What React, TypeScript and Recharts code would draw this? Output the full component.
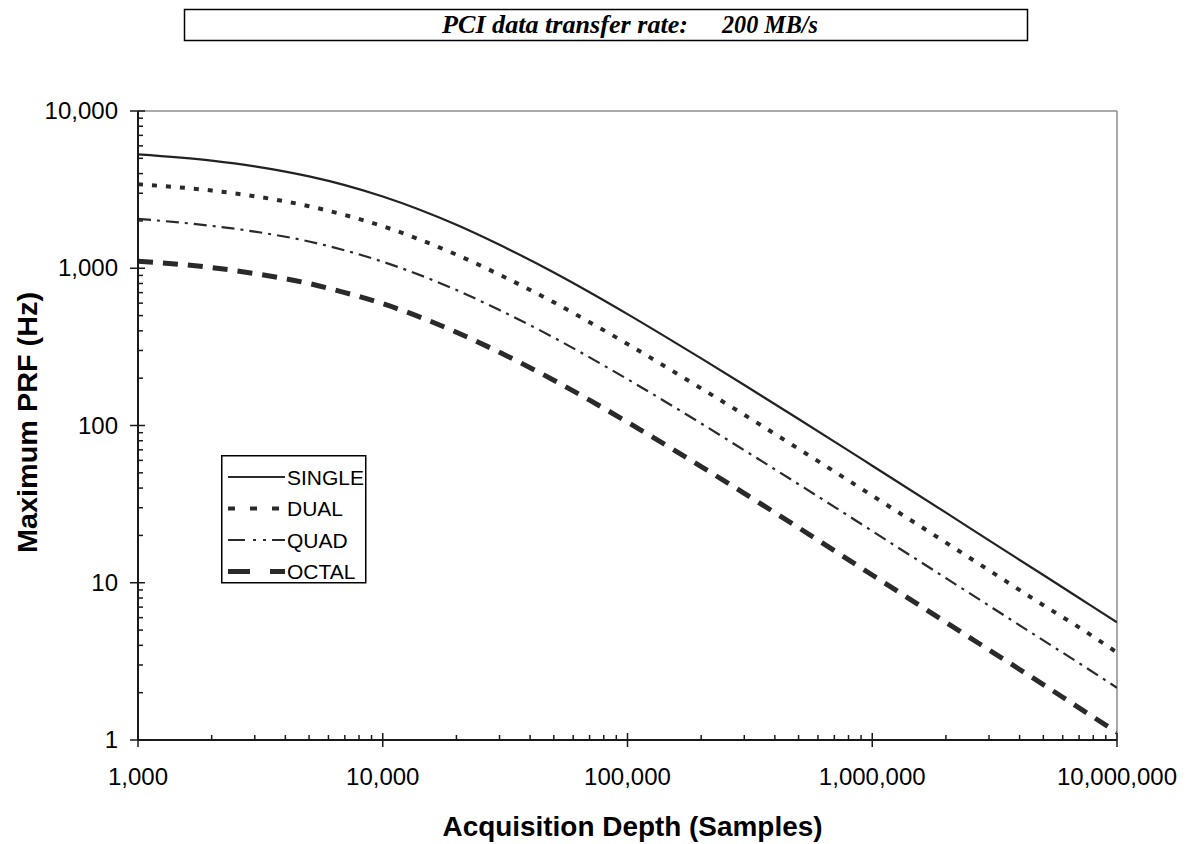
import React from 'react';
import { LineChart, Line, XAxis, YAxis, ReferenceLine, Legend } from 'recharts';

const depths = [1000, 2000, 3000, 5000, 7000, 10000, 20000, 30000, 50000, 70000, 100000, 200000, 300000, 500000, 700000, 1000000, 2000000, 3000000, 5000000, 7000000, 10000000];
const single = [5300, 4840, 4450, 3840, 3380, 2860, 1890, 1410, 940, 704, 511, 267, 181, 110, 79, 55.5, 27.9, 18.6, 11.2, 8.0, 5.6];
const dual = [3420, 3120, 2870, 2480, 2180, 1850, 1220, 910, 607, 454, 330, 172, 117, 71, 51, 35.8, 18.0, 12.0, 7.2, 5.2, 3.6];
const quad = [2060, 1860, 1710, 1480, 1300, 1100, 727, 542, 362, 271, 197, 103, 69.6, 42.3, 30.4, 21.3, 10.7, 7.15, 4.3, 3.08, 2.15];
const octal = [1110, 1010, 925, 800, 700, 595, 392, 292, 194, 145, 105, 54.8, 37, 22.4, 16, 11.2, 5.6, 3.74, 2.25, 1.6, 1.12];

const xMajor = [1000, 10000, 100000, 1000000, 10000000];
const yMajor = [1, 10, 100, 1000, 10000];
const minorMult = [2, 3, 4, 5, 6, 7, 8, 9];
const xTicks: number[] = [];
xMajor.forEach((m, i) => { xTicks.push(m); if (i < xMajor.length - 1) minorMult.forEach(k => xTicks.push(m * k)); });
const yTicks: number[] = [];
yMajor.forEach((m, i) => { yTicks.push(m); if (i < yMajor.length - 1) minorMult.forEach(k => yTicks.push(m * k)); });

const data = depths.map((d, i) => ({ x: d, SINGLE: single[i], DUAL: dual[i], QUAD: quad[i], OCTAL: octal[i] }));

const fmt = (v: number) => v.toLocaleString('en-US');
const FONT = '"Liberation Sans", Arial, sans-serif';
const SERIF = '"Liberation Serif", "Times New Roman", serif';
const AX = '#1a1a1a';
const LINE = '#2a2a2a';

const XTick = (props: any) => {
  const { x, y, payload } = props;
  const v = payload.value;
  const major = xMajor.includes(v);
  return (
    <g>
      {major ? (
        <line x1={x} x2={x} y1={y - 7} y2={y + 7} stroke={AX} strokeWidth={1.5} />
      ) : (
        <line x1={x} x2={x} y1={y - 5} y2={y} stroke={AX} strokeWidth={1.5} />
      )}
      {major && (
        <text x={x} y={y + 45} textAnchor="middle" fontSize={24} fontFamily={FONT} fill="#000">{fmt(v)}</text>
      )}
    </g>
  );
};

const YTick = (props: any) => {
  const { x, y, payload } = props;
  const v = payload.value;
  const major = yMajor.includes(v);
  return (
    <g>
      {major ? (
        <line x1={x - 8} x2={x + 7} y1={y} y2={y} stroke={AX} strokeWidth={1.5} />
      ) : (
        <line x1={x} x2={x + 5} y1={y} y2={y} stroke={AX} strokeWidth={1.5} />
      )}
      {major && (
        <text x={x - 20} y={y + 8} textAnchor="end" fontSize={24} fontFamily={FONT} fill="#000">{fmt(v)}</text>
      )}
    </g>
  );
};

const legendStyles: Record<string, { dash?: string; w: number }> = {
  SINGLE: { w: 2 },
  DUAL: { dash: '7 15', w: 4 },
  QUAD: { dash: '17 8 3 7 3 6 14', w: 2.2 },
  OCTAL: { dash: '22 20 15', w: 5 },
};
const seriesNames = ['SINGLE', 'DUAL', 'QUAD', 'OCTAL'];

const LegendBox = () => (
  <svg width={146} height={129} style={{ display: 'block' }}>
    <rect x={0.75} y={0.75} width={144} height={127} fill="#fff" stroke="#000" strokeWidth={1.5} />
    {seriesNames.map((n, i) => {
      const cy = 22 + i * 31.5;
      const s = legendStyles[n];
      return (
        <g key={n}>
          <line x1={7} x2={64} y1={cy} y2={cy} stroke={LINE} strokeWidth={s.w} strokeDasharray={s.dash} />
          <text x={66} y={cy + 7.5} fontSize={21} fontFamily={FONT} fill="#000">{n}</text>
        </g>
      );
    })}
  </svg>
);

export default function App() {
  return (
    <div style={{ position: 'absolute', left: 0, top: 0, width: 1186, height: 844, background: '#fff' }}>
      <svg width={1186} height={50} style={{ position: 'absolute', left: 0, top: 0 }}>
        <rect x={184.5} y={9.5} width={843} height={31} fill="#fff" stroke="#000" strokeWidth={1.5} />
        <text x={442} y={33} fontSize={25} fontWeight="bold" fontStyle="italic" fontFamily={SERIF} textLength={246} lengthAdjust="spacingAndGlyphs">PCI data transfer rate:</text>
        <text x={722} y={33} fontSize={25} fontWeight="bold" fontStyle="italic" fontFamily={SERIF} textLength={96} lengthAdjust="spacingAndGlyphs">200 MB/s</text>
      </svg>
      <div style={{ position: 'absolute', left: 0, top: 0 }}>
        <LineChart width={1186} height={844} data={data} margin={{ top: 111, right: 69, bottom: 0, left: 0 }}>
          <XAxis
            dataKey="x"
            type="number"
            scale="log"
            domain={[1000, 10000000]}
            allowDataOverflow
            ticks={xTicks}
            interval={0}
            tickSize={0}
            tickMargin={0}
            tickLine={false}
            tick={<XTick />}
            height={104}
            axisLine={{ stroke: AX, strokeWidth: 2 }}
            label={(p: any) => {
              const vb = p.viewBox;
              return (
                <text x={vb.x + vb.width / 2 + 5} y={vb.y + 96} textAnchor="middle" fontSize={27} fontWeight="bold" fontFamily={FONT} fill="#000" textLength={380} lengthAdjust="spacingAndGlyphs">Acquisition Depth (Samples)</text>
              );
            }}
          />
          <YAxis
            type="number"
            scale="log"
            domain={[1, 10000]}
            allowDataOverflow
            ticks={yTicks}
            interval={0}
            tickSize={0}
            tickMargin={0}
            tickLine={false}
            tick={<YTick />}
            width={138}
            axisLine={{ stroke: AX, strokeWidth: 2 }}
            label={(p: any) => {
              const vb = p.viewBox;
              const cx = 28;
              const cy = vb.y + vb.height / 2 - 3;
              return (
                <text x={cx} y={cy} transform={`rotate(-90, ${cx}, ${cy})`} textAnchor="middle" dominantBaseline="central" fontSize={27} fontWeight="bold" fontFamily={FONT} fill="#000" textLength={261} lengthAdjust="spacingAndGlyphs">Maximum PRF (Hz)</text>
              );
            }}
          />
          <ReferenceLine y={10000} stroke="#8c8c8c" strokeWidth={1.5} />
          <ReferenceLine x={10000000} stroke="#8c8c8c" strokeWidth={1.5} />
          <Legend
            layout="vertical"
            align="center"
            verticalAlign="middle"
            content={() => <LegendBox />}
            wrapperStyle={{ position: 'absolute', left: 221, top: 455, width: 146, height: 129 }}
          />
          <Line type="monotone" dataKey="SINGLE" stroke="#222" strokeWidth={2.2} dot={false} isAnimationActive={false} />
          <Line type="monotone" dataKey="DUAL" stroke={LINE} strokeWidth={4} strokeDasharray="5 9" dot={false} isAnimationActive={false} />
          <Line type="monotone" dataKey="QUAD" stroke={LINE} strokeWidth={2.2} strokeDasharray="13 6 3 6" dot={false} isAnimationActive={false} />
          <Line type="monotone" dataKey="OCTAL" stroke={LINE} strokeWidth={5} strokeDasharray="15 10" dot={false} isAnimationActive={false} />
        </LineChart>
      </div>
    </div>
  );
}
